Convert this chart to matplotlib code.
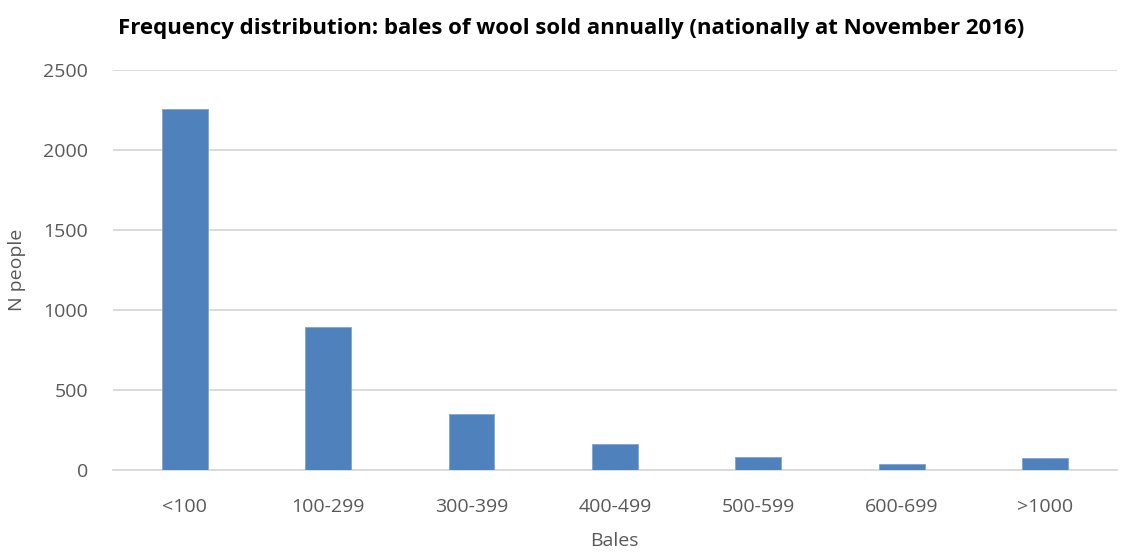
import matplotlib
matplotlib.use('Agg')
import matplotlib.pyplot as plt
import numpy as np

plt.rcParams['font.family'] = ['Open Sans', 'DejaVu Sans']

# data
categories = ['<100', '100-299', '300-399', '400-499', '500-599', '600-699', '>1000']
n_people = [2258, 894, 350, 163, 80, 38, 78]
y_ticks = [0, 500, 1000, 1500, 2000, 2500]

fig = plt.figure(figsize=(11.36, 5.53), dpi=100)
ax = fig.add_axes([0.0995, 0.150, 0.8835, 0.723])

x = np.arange(len(categories))
ax.bar(x, n_people, width=0.32, color='#4F81BD', edgecolor='#7FA3D3', linewidth=0.6, zorder=3)

ax.set_xlim(-0.5, len(categories) - 0.5)
ax.set_ylim(0, 2500)
ax.set_yticks(y_ticks)
ax.set_xticks(x)
ax.set_xticklabels(categories)
ax.tick_params(axis='both', length=0, labelsize=14, colors='#595959')
ax.tick_params(axis='x', pad=20)
ax.tick_params(axis='y', pad=18)
ax.grid(axis='y', color='#D9D9D9', linewidth=1.3, zorder=0)
for s in ['top', 'right', 'left']:
    ax.spines[s].set_visible(False)
ax.spines['bottom'].set_color('#D9D9D9')
ax.spines['bottom'].set_linewidth(1.3)

ax.set_xlabel('Bales', fontsize=14, color='#595959', labelpad=12)
ax.set_ylabel('N people', fontsize=14, color='#595959', labelpad=12)

fig.text(0.503, 0.949, 'Frequency distribution: bales of wool sold annually (nationally at November 2016)',
         ha='center', va='center', fontsize=16, fontweight='bold', color='black')

plt.savefig('out.png', dpi=100)
